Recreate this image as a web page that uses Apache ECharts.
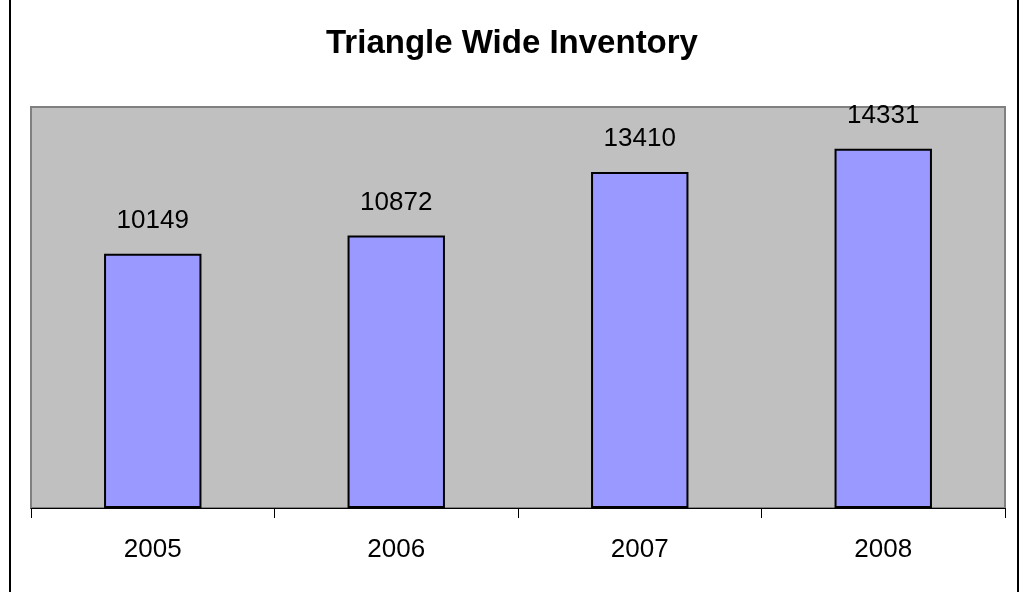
<!DOCTYPE html>
<html>
<head>
<meta charset="utf-8">
<script src="https://cdn.jsdelivr.net/npm/echarts@6/dist/echarts.min.js"></script>
<style>
  html, body { margin: 0; padding: 0; background: #fff; }
  #chart { width: 1024px; height: 592px; }
</style>
</head>
<body>
<div id="chart"></div>
<script>
const years = ["2005", "2006", "2007", "2008"];
const inventory = [10149, 10872, 13410, 14331];

const chart = echarts.init(document.getElementById("chart"));
const font = "Liberation Sans, Arial, sans-serif";

const option = {
  animation: false,
  title: {
    text: "Triangle Wide Inventory",
    left: "center",
    top: 22,
    textStyle: { fontFamily: font, fontSize: 33, fontWeight: "bold", color: "#000" }
  },
  graphic: [
    {
      type: "rect",
      shape: { x: 10, y: -5, width: 1008, height: 604 },
      style: { fill: "none", stroke: "#000", lineWidth: 2 }
    }
  ],
  grid: {
    left: 31,
    right: 19,
    top: 107,
    bottom: 84,
    show: true,
    backgroundColor: "#C0C0C0",
    borderColor: "#808080",
    borderWidth: 2
  },
  xAxis: {
    type: "category",
    data: years,
    axisLine: { lineStyle: { color: "#000", width: 1 } },
    axisTick: { show: true, length: 10, lineStyle: { color: "#000" } },
    axisLabel: { fontFamily: font, fontSize: 26, color: "#000", margin: 29 }
  },
  yAxis: {
    type: "value",
    min: 0,
    max: 16000,
    show: false,
    splitLine: { show: false }
  },
  series: [
    {
      type: "bar",
      data: inventory,
      barWidth: "40%",
      itemStyle: { color: "#9999FF", borderColor: "#000", borderWidth: 2 },
      label: {
        show: true,
        position: "top",
        distance: 20,
        fontFamily: font,
        fontSize: 26,
        color: "#000"
      }
    }
  ]
};

chart.setOption(option);
window.addEventListener("resize", function () {
  chart.resize();
});
</script>
</body>
</html>
